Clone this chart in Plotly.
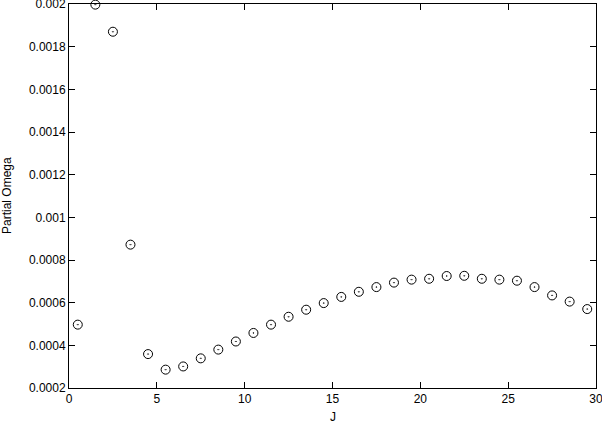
import plotly.graph_objects as go

J = [0.5, 1.5, 2.5, 3.5, 4.5, 5.5, 6.5, 7.5, 8.5, 9.5, 10.5, 11.5, 12.5, 13.5, 14.5,
     15.5, 16.5, 17.5, 18.5, 19.5, 20.5, 21.5, 22.5, 23.5, 24.5, 25.5, 26.5, 27.5, 28.5, 29.5]
partial_omega = [0.000497, 0.001997, 0.001870, 0.000872, 0.000359, 0.000286, 0.000301,
                 0.000339, 0.000380, 0.000418, 0.000458, 0.000497, 0.000534, 0.000567,
                 0.000598, 0.000627, 0.000651, 0.000673, 0.000694, 0.000708, 0.000712,
                 0.000725, 0.000726, 0.000712, 0.000708, 0.000703, 0.000673, 0.000634,
                 0.000605, 0.000570]
x_ticks = [0, 5, 10, 15, 20, 25, 30]
y_ticks = [0.0002, 0.0004, 0.0006, 0.0008, 0.001, 0.0012, 0.0014, 0.0016, 0.0018, 0.002]
y_tick_labels = ["0.0002", "0.0004", "0.0006", "0.0008", "0.001", "0.0012", "0.0014",
                 "0.0016", "0.0018", "0.002"]

FONT = "Liberation Sans, Arial, sans-serif"

fig = go.Figure(go.Scatter(
    x=J, y=partial_omega, mode="markers",
    marker=dict(symbol="circle-open-dot", size=9, color="black", line=dict(width=1, color="black")),
    cliponaxis=False,
))

axis_common = dict(
    showgrid=False, zeroline=False, showline=True, linecolor="black", linewidth=1,
    mirror="allticks", ticks="inside", ticklen=6, tickwidth=1, tickcolor="black",
    tickfont=dict(family=FONT, size=12, color="black"),
    automargin=False, ticklabeloverflow="allow",
)

fig.update_layout(
    width=602, height=423,
    margin=dict(l=69, r=6, t=4, b=35, autoexpand=False),
    paper_bgcolor="white", plot_bgcolor="white",
    showlegend=False,
    xaxis=dict(range=[-1e-9, 30 + 1e-9], tickvals=x_ticks, ticktext=[str(v) for v in x_ticks],
               **axis_common),
    yaxis=dict(range=[0.0002 - 1e-12, 0.002 + 1e-12], tickvals=y_ticks, ticktext=y_tick_labels,
               **axis_common),
    annotations=[
        dict(text="J", xref="paper", yref="paper", x=0.5, y=0, yshift=-29,
             xanchor="center", yanchor="middle", showarrow=False,
             font=dict(family=FONT, size=12, color="black")),
        dict(text="Partial Omega", xref="paper", yref="paper", x=0, y=0.5, xshift=-62,
             xanchor="center", yanchor="middle", textangle=-90, showarrow=False,
             font=dict(family=FONT, size=12, color="black")),
    ],
)

fig.write_html("out.html", config={"displayModeBar": False},
               post_script="document.body.style.margin='0';document.body.style.overflow='hidden';")
